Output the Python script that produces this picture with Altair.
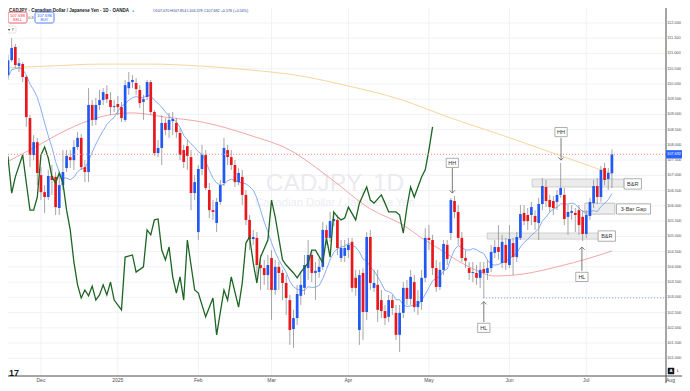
import altair as alt
import pandas as pd

# ---------------- data ----------------
opens = [111.18, 109.54, 110.29, 110.78, 111.21, 110.59, 110.65, 110.23, 108.88, 107.67,
         108.09, 107.01, 106.45, 106.29, 106.98, 106.95, 105.93, 106.68, 107.24, 107.60,
         107.50, 107.93, 108.23, 107.27, 107.11, 109.31, 108.82, 109.31, 109.47, 109.67,
         109.47, 109.24, 109.34, 109.24, 108.82, 109.86, 110.06, 110.03, 109.80, 109.41,
         109.57, 110.06, 109.08, 107.73, 107.90, 108.72, 108.49, 108.78, 108.72, 108.39,
         107.83, 107.96, 107.60, 106.42, 105.14, 107.21, 107.67, 106.52, 105.86, 105.44,
         106.13, 106.75, 107.83, 107.60, 107.34, 106.78, 106.95, 106.36, 105.54, 104.91,
         104.95, 104.06, 103.96, 103.73, 104.29, 103.24, 104.00, 103.80, 103.47, 102.91,
         101.96, 102.32, 103.05, 103.31, 103.96, 104.39, 103.80, 103.83, 104.00, 105.21,
         104.95, 105.50, 105.54, 104.29, 104.36, 104.55, 104.82, 103.64, 101.93, 103.80,
         102.52, 104.98, 103.31, 103.41, 102.91, 102.55, 102.36, 102.91, 102.49, 101.77,
         102.49, 103.31, 102.95, 103.50, 102.68, 102.85, 103.64, 104.95, 104.88, 103.96,
         103.34, 103.90, 104.72, 105.11, 106.16, 105.80, 104.95, 104.29, 103.96, 103.80,
         103.80, 103.64, 103.93, 103.80, 103.96, 104.46, 104.65, 104.13, 104.72, 104.06,
         104.78, 104.32, 104.95, 105.77, 105.70, 105.70, 105.67, 105.44, 106.06, 106.62,
         106.19, 106.16, 106.13, 106.36, 106.36, 105.64, 105.77, 105.77, 105.86, 105.64,
         105.08, 105.67, 106.09, 106.65, 106.29, 107.24, 106.88, 107.07]
highs = [111.44, 110.52, 110.95, 111.50, 111.31, 110.85, 110.72, 110.29, 108.98, 108.32,
         108.23, 107.27, 106.68, 107.18, 107.34, 107.11, 107.01, 107.83, 107.83, 107.83,
         108.16, 108.42, 108.36, 107.50, 109.86, 109.47, 109.54, 109.80, 109.86, 109.96,
         109.73, 109.47, 109.60, 109.41, 110.13, 110.39, 110.29, 110.19, 109.96, 109.64,
         110.13, 110.13, 109.14, 108.16, 108.98, 108.88, 109.05, 109.08, 108.88, 108.55,
         108.00, 108.16, 107.83, 107.01, 107.34, 108.00, 107.83, 106.75, 106.19, 106.26,
         106.85, 108.23, 108.00, 107.83, 107.50, 107.24, 107.18, 106.52, 105.70, 105.21,
         105.14, 104.39, 104.23, 104.39, 104.55, 104.23, 104.16, 103.90, 103.73, 103.08,
         102.59, 103.41, 103.83, 104.39, 104.88, 104.55, 104.16, 104.29, 105.47, 105.37,
         105.80, 105.80, 105.70, 104.88, 104.88, 104.95, 104.95, 103.90, 103.90, 103.96,
         105.14, 105.21, 103.90, 103.90, 103.24, 102.75, 103.08, 103.08, 102.75, 102.75,
         103.50, 103.57, 103.90, 103.73, 103.24, 103.90, 105.27, 105.37, 105.05, 104.23,
         104.16, 104.88, 104.88, 106.26, 106.32, 106.03, 105.14, 104.55, 104.16, 104.16,
         104.06, 104.16, 104.16, 104.23, 104.72, 104.88, 105.37, 105.05, 104.95, 105.37,
         104.95, 105.14, 106.03, 106.03, 105.93, 106.13, 105.86, 106.26, 106.91, 106.85,
         106.36, 106.32, 106.52, 107.41, 106.59, 106.03, 106.03, 105.93, 106.03, 105.86,
         105.86, 106.26, 106.85, 106.91, 107.31, 107.41, 107.24, 107.85]
lows = [109.31, 109.24, 110.13, 110.72, 110.52, 110.39, 110.06, 108.59, 107.27, 107.50,
        106.68, 106.19, 105.77, 106.19, 106.36, 105.70, 105.70, 106.52, 107.11, 107.24,
        107.18, 107.83, 107.18, 106.78, 106.78, 108.62, 108.65, 109.14, 109.31, 109.37,
        108.98, 109.08, 108.98, 108.75, 108.75, 109.64, 109.86, 109.64, 109.21, 108.82,
        109.47, 108.98, 107.64, 107.60, 107.34, 108.32, 108.23, 108.32, 108.23, 107.50,
        107.24, 107.18, 105.86, 106.19, 104.88, 107.01, 106.52, 105.60, 105.54, 105.14,
        106.03, 106.65, 107.34, 107.18, 106.62, 106.68, 106.03, 105.37, 104.55, 104.72,
        103.57, 103.24, 103.41, 103.24, 102.26, 103.08, 103.24, 102.91, 102.42, 101.44,
        101.34, 102.09, 102.75, 103.08, 103.57, 103.50, 102.91, 103.64, 103.90, 104.72,
        104.82, 105.34, 104.39, 104.16, 104.16, 104.29, 103.18, 103.05, 101.44, 101.60,
        102.26, 103.24, 103.18, 102.19, 102.32, 102.09, 102.19, 102.42, 101.60, 101.21,
        102.32, 102.75, 102.75, 102.52, 102.42, 102.59, 103.50, 104.55, 103.73, 103.18,
        103.24, 103.73, 104.06, 104.88, 105.60, 104.72, 104.16, 103.96, 103.57, 103.50,
        103.41, 103.30, 102.98, 103.57, 103.83, 104.29, 104.23, 103.96, 103.90, 103.96,
        103.73, 104.16, 104.88, 105.37, 105.21, 105.37, 105.21, 104.88, 105.86, 105.96,
        105.80, 105.70, 105.86, 106.26, 105.37, 105.05, 105.54, 105.14, 105.05, 104.85,
        104.95, 105.54, 105.93, 106.06, 106.13, 106.68, 106.52, 106.58]
closes = [109.54, 110.36, 110.78, 111.18, 110.62, 110.68, 110.23, 108.91, 107.67, 108.09,
          107.08, 106.45, 106.29, 106.98, 106.85, 105.96, 106.68, 107.11, 107.64, 107.50,
          107.93, 108.23, 107.27, 107.11, 109.31, 108.82, 109.31, 109.47, 109.73, 109.50,
          109.24, 109.27, 109.24, 108.88, 109.96, 110.06, 110.13, 109.83, 109.37, 109.50,
          110.06, 109.08, 107.73, 107.90, 108.72, 108.49, 108.82, 108.85, 108.42, 107.67,
          107.44, 107.64, 106.42, 106.78, 107.21, 107.67, 106.59, 105.86, 105.80, 106.13,
          106.68, 107.90, 107.60, 107.34, 106.78, 107.08, 106.36, 105.54, 104.91, 104.98,
          104.06, 103.96, 103.73, 104.06, 103.24, 104.00, 103.80, 103.47, 102.98, 101.93,
          102.32, 103.11, 103.41, 104.06, 104.39, 103.80, 103.87, 104.00, 105.21, 104.95,
          105.50, 105.57, 104.62, 104.62, 104.62, 104.72, 103.31, 103.31, 103.73, 102.52,
          104.98, 103.47, 103.47, 102.59, 102.55, 102.32, 102.91, 102.65, 101.77, 102.49,
          103.31, 102.95, 103.67, 102.68, 102.88, 103.64, 104.95, 104.88, 103.96, 103.34,
          103.90, 104.75, 104.26, 106.19, 105.80, 104.95, 104.29, 104.20, 103.80, 103.83,
          103.64, 103.90, 103.80, 103.96, 104.49, 104.65, 104.49, 104.82, 104.13, 104.91,
          104.32, 104.98, 105.73, 105.50, 105.50, 105.96, 105.47, 106.06, 106.65, 106.16,
          105.96, 105.93, 106.36, 106.59, 105.57, 105.80, 105.83, 105.70, 105.37, 105.08,
          105.70, 106.13, 106.65, 106.29, 107.18, 106.85, 107.08, 107.692]

# axis ticks and labels
month_ticks = [11, 32, 54, 74, 95, 117, 139, 160, 183]
month_labels = ["Dec", "2025", "Feb", "Mar", "Apr", "May", "Jun", "Jul", "Aug"]
price_ticks = [101.0, 101.5, 102.0, 102.5, 103.0, 103.5, 104.0, 104.5, 105.0, 105.5,
               106.0, 106.5, 107.0, 107.5, 108.0, 108.5, 109.0, 109.5, 110.0, 110.5,
               111.0, 111.5, 112.0]

# slow moving averages
red_ma_idx = [0, 9, 18, 27, 36, 45, 55, 68, 79, 90, 101, 110, 115, 119, 128, 135, 143, 152, 161, 167]
red_ma_val = [107.34, 107.90, 108.49, 108.91, 109.05, 108.91, 108.75, 108.32, 107.83, 106.91,
              105.90, 105.37, 104.95, 104.65, 104.00, 103.70, 103.77, 104.00, 104.29, 104.52]
yel_ma_idx = [0, 14, 27, 41, 54, 68, 82, 95, 109, 123, 136, 150, 164, 167]
yel_ma_val = [110.52, 110.59, 110.65, 110.65, 110.59, 110.46, 110.26, 109.93, 109.50, 108.88,
              108.36, 107.77, 107.18, 107.05]

# comparison symbol (green line), plotted on the price scale
cmp_idx = [0, 1, 2, 3, 4, 6, 7, 8, 9, 10, 11, 12, 13, 14, 15, 16, 17, 18, 19, 20,
           21, 22, 23, 24, 25, 26, 27, 28, 29, 30, 31, 33, 34, 36, 37, 39, 40, 41, 42, 43,
           44, 45, 46, 47, 48, 49, 50, 51, 53, 54, 56, 58, 59, 61, 62, 63, 65, 66, 67, 68,
           69, 70, 71, 73, 74, 75, 77, 78, 80, 81, 82, 84, 85, 86, 88, 89, 90, 91, 92, 93,
           94, 95, 97, 98, 100, 101, 102, 104, 105, 106, 108, 109, 110, 111, 112, 113, 115, 116, 117, 118]
cmp_val = [107.57, 107.93, 107.60, 106.42, 106.95, 107.67, 106.75, 105.86, 105.86, 106.29,
           107.67, 107.93, 107.57, 106.95, 106.75, 107.08, 106.75, 105.86, 105.21, 104.16,
           103.41, 102.98, 103.24, 103.05, 103.37, 102.91, 103.08, 103.41, 103.08, 103.50,
           102.91, 102.59, 104.32, 104.39, 103.83, 104.00, 105.21, 105.05, 105.54, 105.57,
           104.55, 104.23, 104.65, 103.67, 103.14, 103.67, 102.91, 104.88, 103.24, 103.14,
           102.36, 102.98, 101.77, 103.24, 102.91, 103.67, 102.68, 103.47, 104.78, 104.98,
           104.13, 103.47, 104.32, 104.88, 106.19, 105.64, 104.23, 104.06, 103.80, 103.64,
           103.83, 104.13, 104.55, 104.55, 104.13, 104.95, 104.32, 105.80, 105.64, 105.54,
           105.60, 105.96, 105.54, 106.09, 106.62, 106.19, 106.09, 106.36, 106.09, 105.80,
           105.80, 105.70, 105.11, 105.96, 106.62, 106.29, 106.95, 107.18, 107.83, 108.59]

# annotations
swing_text = ["HH", "HH", "HL", "HL"]
swing_idx = [123.4, 153.1, 132.0, 158.8]
swing_label_price = [107.41, 108.42, 102.00, 103.67]
swing_arrow_from = [107.24, 108.23, 102.19, 103.87]
swing_arrow_tip = [106.42, 107.50, 102.86, 104.65]
zone_idx_start = [145.2, 132.9]
zone_idx_end = [170.3, 165.0]
zone_top = [106.88, 105.11]
zone_bottom = [106.62, 104.91]
zone_text = ["B&R", "B&R"]
zone_text_idx = [172.7, 165.6]
zone_text_price = [106.72, 105.01]
gap_idx = [159.6, 167.8]
gap_price = [106.09, 105.73]
gap_text_idx = [172.9]
gap_text_price = [105.90]
hl_level = [102.98]
hl_level_start = [131.8]

# ---------------- chart ----------------
BLUE = "#2157f3"
RED = "#e8171c"
FONT = "Liberation Sans"
GRID = "#eff2f7"
AXIS = "#4d4d4d"
X_DOM = [1.995, 181.78]
Y_DOM = [100.42, 112.49]
W, H = 658, 368          # plot area; whole chart is 674 x 375
PR, PB = 16, 7
xs = alt.Scale(domain=X_DOM, nice=False, zero=False, padding=0)
ys = alt.Scale(domain=Y_DOM, nice=False, zero=False, padding=0)


def X(f):
    return alt.X(f, type="quantitative", scale=xs, axis=None)


def Y(f):
    return alt.Y(f, type="quantitative", scale=ys, axis=None)


one = pd.DataFrame({"k": [0]})


def ptext(txt, x, y, size, color="#131722", weight="normal", align="left", baseline="middle"):
    return alt.Chart(one).mark_text(text=txt, fontSize=size, color=color, font=FONT,
                                    fontWeight=weight, align=align, baseline=baseline).encode(
        x=alt.value(x), y=alt.value(y))


def prect(x0, x1, y0, y1, fill, stroke, sw=0.8, r=0):
    return alt.Chart(one).mark_rect(fill=fill, stroke=stroke, strokeWidth=sw,
                                    cornerRadius=r).encode(
        x=alt.value(x0), x2=alt.value(x1), y=alt.value(y0), y2=alt.value(y1))


def pline(x0, x1, y0, y1, color, sw=1):
    return alt.Chart(one).mark_rule(color=color, strokeWidth=sw).encode(
        x=alt.value(x0), x2=alt.value(x1), y=alt.value(y0), y2=alt.value(y1))


# grid + hand-made axes (through the same scales)
months = pd.DataFrame({"i": month_ticks, "t": month_labels})
prices = pd.DataFrame({"p": price_ticks})
vgrid = alt.Chart(months).mark_rule(color=GRID, strokeWidth=1, clip=True).encode(x=X("i"))
hgrid = alt.Chart(prices).mark_rule(color=GRID, strokeWidth=1).encode(y=Y("p"))
month_txt = alt.Chart(months).mark_text(fontSize=5, color=AXIS, font=FONT, align="center",
                                        baseline="middle").encode(
    x=X("i"), y=alt.value(H + 4.3), text="t:N")
price_txt = alt.Chart(prices).mark_text(fontSize=3.9, color=AXIS, font=FONT, align="left",
                                        baseline="middle").encode(
    x=alt.value(W + 1.2), y=Y("p"), text=alt.Text("p:Q", format=".3f"))

candles = pd.DataFrame({"i": list(range(len(closes))), "open": opens, "high": highs,
                        "low": lows, "close": closes})
base = alt.Chart(candles)

wicks = base.mark_rule(color="#8f8f8f", strokeWidth=0.8, clip=True).encode(
    x=X("i"), y=Y("low"), y2="high:Q")
bodies = base.mark_bar(size=2.7, clip=True).encode(
    x=X("i"), y=Y("open"), y2="close:Q",
    color=alt.condition("datum.close >= datum.open", alt.value(BLUE), alt.value(RED)))
ma_fast = base.transform_window(
    ma="mean(close)", frame=[-9, 0], sort=[alt.SortField("i")]
).mark_line(color="#7aa5f2", strokeWidth=0.9, clip=True).encode(x=X("i"), y=Y("ma"))

red_ma = alt.Chart(pd.DataFrame({"i": red_ma_idx, "v": red_ma_val})).mark_line(
    color="#f4a6a6", strokeWidth=1, interpolate="monotone", clip=True).encode(x=X("i"), y=Y("v"))
yel_ma = alt.Chart(pd.DataFrame({"i": yel_ma_idx, "v": yel_ma_val})).mark_line(
    color="#f8d59c", strokeWidth=1, interpolate="monotone", clip=True).encode(x=X("i"), y=Y("v"))
green = alt.Chart(pd.DataFrame({"i": cmp_idx, "v": cmp_val})).mark_line(
    color="#1e6423", strokeWidth=1.3, clip=True).encode(x=X("i"), y=Y("v"))

last_df = pd.DataFrame({"p": [closes[-1]], "hi": [closes[-1] + 0.135], "lo": [closes[-1] - 0.135],
                        "t": [f"{closes[-1]:.3f}"]})
price_line = alt.Chart(last_df).mark_rule(color="#f28b8b", strokeDash=[1, 2], strokeWidth=1).encode(
    y=Y("p"))
hl_df = pd.DataFrame({"a": hl_level_start, "b": [X_DOM[1]], "p": hl_level})
hl_line = alt.Chart(hl_df).mark_rule(color="#7f9ff5", strokeDash=[1, 2], strokeWidth=1).encode(
    x=X("a"), x2="b:Q", y=Y("p"))

zones = alt.Chart(pd.DataFrame({"a": zone_idx_start, "b": zone_idx_end, "t": zone_top,
                                "u": zone_bottom})).mark_rect(
    fill="#e4e4e4", fillOpacity=0.75, stroke="#c6c6c6", strokeWidth=0.8).encode(
    x=X("a"), x2="b:Q", y=Y("t"), y2="u:Q")
gap_box = alt.Chart(pd.DataFrame({"a": [gap_idx[0]], "b": [gap_idx[1]], "t": [gap_price[0]],
                                  "u": [gap_price[1]]})).mark_rect(
    fill="#e8e8e8", fillOpacity=0.8, stroke="#b5b5b5", strokeWidth=0.8).encode(
    x=X("a"), x2="b:Q", y=Y("t"), y2="u:Q")


def box_path(aspect):
    return f"M-1,-{aspect}L1,-{aspect}L1,{aspect}L-1,{aspect}Z"


swings = pd.DataFrame({"t": swing_text, "i": swing_idx, "p": swing_label_price,
                       "a": swing_arrow_from, "b": swing_arrow_tip})
arrow_stem = alt.Chart(swings).mark_rule(color="#6b6b6b", strokeWidth=0.9).encode(
    x=X("i"), y=Y("a"), y2="b:Q")
arrow_head_down = alt.Chart(swings[swings.t == "HH"]).mark_point(
    shape="M-1,-1L0,0L1,-1", size=30, filled=False, color="#6b6b6b", strokeWidth=0.9,
    opacity=1).encode(x=X("i"), y=Y("b"))
arrow_head_up = alt.Chart(swings[swings.t == "HL"]).mark_point(
    shape="M-1,1L0,0L1,1", size=30, filled=False, color="#6b6b6b", strokeWidth=0.9,
    opacity=1).encode(x=X("i"), y=Y("b"))
swing_box = alt.Chart(swings).mark_point(shape=box_path(0.75), size=150, filled=True,
                                         color="white", stroke="#9a9a9a", strokeWidth=0.8,
                                         opacity=1).encode(x=X("i"), y=Y("p"))
swing_lbl = alt.Chart(swings).mark_text(fontSize=5.5, color="#333333", font=FONT).encode(
    x=X("i"), y=Y("p"), text="t:N")

zone_lbls = pd.DataFrame({"t": zone_text, "i": zone_text_idx, "p": zone_text_price})
zone_box = alt.Chart(zone_lbls).mark_point(shape=box_path(0.6), size=300, filled=True,
                                           color="white", stroke="#9a9a9a", strokeWidth=0.8,
                                           opacity=1).encode(x=X("i"), y=Y("p"))
zone_lbl = alt.Chart(zone_lbls).mark_text(fontSize=5.5, color="#333333", font=FONT).encode(
    x=X("i"), y=Y("p"), text="t:N")
gap_lbls = pd.DataFrame({"t": ["3-Bar Gap"], "i": gap_text_idx, "p": gap_text_price})
gap_lbl_box = alt.Chart(gap_lbls).mark_point(shape=box_path(0.3), size=1156, filled=True,
                                             color="white", stroke="#9a9a9a", strokeWidth=0.8,
                                             opacity=1).encode(x=X("i"), y=Y("p"))
gap_lbl = alt.Chart(gap_lbls).mark_text(fontSize=5.5, color="#333333", font=FONT).encode(
    x=X("i"), y=Y("p"), text="t:N")

# price tag on the right axis
tag_box = alt.Chart(last_df).mark_rect(color="#2962ff").encode(
    x=alt.value(W), x2=alt.value(W + PR), y=Y("hi"), y2="lo:Q")
tag_txt = alt.Chart(last_df).mark_text(fontSize=3.9, color="white", font=FONT,
                                       align="center").encode(
    x=alt.value(W + PR / 2), y=Y("p"), text="t:N")

layers = [
    vgrid, hgrid,
    ptext("CADJPY, 1D", 327, 176, 24.5, "#ebebef", align="center"),
    ptext("Canadian Dollar / Japanese Yen", 327, 195, 11.2, "#ededf1", align="center"),
    zones, gap_box, yel_ma, red_ma, ma_fast,
    wicks, bodies, green, price_line, hl_line,
    arrow_stem, arrow_head_down, arrow_head_up, swing_box, swing_lbl,
    zone_box, zone_lbl, gap_lbl_box, gap_lbl,
    pline(W, W, 0, H + PB, AXIS),
    pline(0, W + PR, H, H, AXIS),
    month_txt, price_txt, tag_box, tag_txt,
    ptext("CADJPY · Canadian Dollar / Japanese Yen · 1D · OANDA", 1, 0.3, 4.5, weight="bold",
          baseline="top"),
    ptext("●", 124, 2.6, 3.5, "#22ab94"),
    ptext("O107.070 H107.854 L106.578 C107.692 +0.576 (+0.54%)", 145, 2.6, 3.7, "#2a3f9a"),
    prect(0, 19, 4, 15, "white", "#f23645", r=2),
    prect(27, 46, 4, 15, "white", "#2962ff", r=2),
    ptext("107.688", 9.5, 7.5, 4.2, "#f23645", align="center"),
    ptext("SELL", 9.5, 12, 3.8, "#f23645", align="center"),
    ptext("0.8", 23, 9.5, 3.8, "#555555", align="center"),
    ptext("107.696", 36.5, 7.5, 4.2, "#2962ff", align="center"),
    ptext("BUY", 36.5, 12, 3.8, "#2962ff", align="center"),
    prect(-2, 8, 18, 25, "white", "#d0d0d0", sw=0.6, r=1),
    ptext("▾ 7", 3, 21.5, 4.2, "#333333", align="center"),
    ptext("17", 6, 365, 9, "#131722", weight="bold", align="center"),
    prect(W + 2, W + 8, H - 8, H - 2, "#131722", "#131722", sw=0.5),
    ptext("A", W + 5, H - 5, 4.3, "white", weight="bold", align="center"),
    ptext("L", W + 12, H - 5, 4.3, "#131722", align="center"),
]

chart = alt.layer(*layers).properties(
    width=W, height=H,
    padding={"left": 0, "top": 0, "right": PR, "bottom": PB},
    autosize=alt.AutoSizeParams(type="none"),
    background="white",
).configure_view(stroke=None)

chart.save("out.html", embed_options={"renderer": "svg", "actions": False})
